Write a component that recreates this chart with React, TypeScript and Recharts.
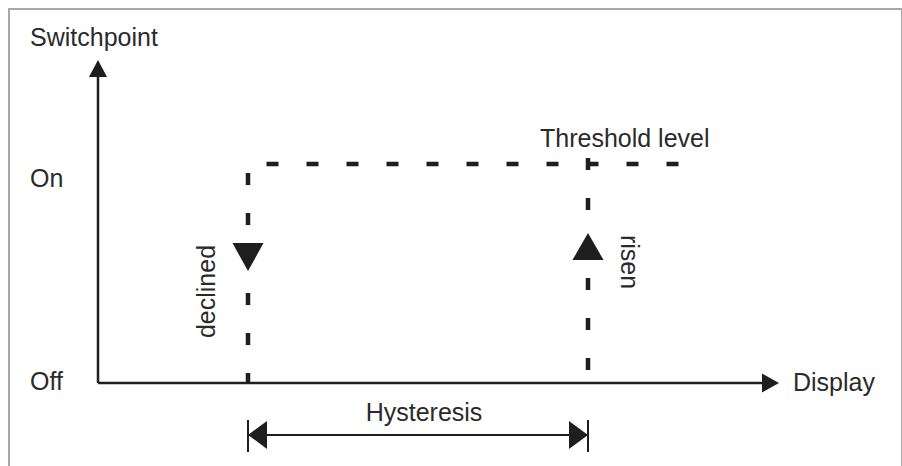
import React from 'react';
import { ComposedChart, XAxis, YAxis, Line, Scatter } from 'recharts';

// x: display value, y: switch state (0 = Off, 1 = On)
const DECLINED = 30;
const RISEN = 98;

const yAxisLine = [{ x: 0, y: 0 }, { x: 0, y: 1.4 }];
const xAxisLine = [{ x: 0, y: 0 }, { x: 133, y: 0 }];
const thresholdLine = [{ x: 33.7, y: 1 }, { x: 116.1, y: 1 }];
const declinedLine = [{ x: DECLINED, y: 0.959 }, { x: DECLINED, y: 0 }];
const risenLine = [{ x: RISEN, y: 1.027 }, { x: RISEN, y: 0.059 }];
const hysteresisLine = [{ x: DECLINED, y: -0.237 }, { x: RISEN, y: -0.237 }];
const hysteresisLeftTick = [{ x: DECLINED, y: -0.169 }, { x: DECLINED, y: -0.315 }];
const hysteresisRightTick = [{ x: RISEN, y: -0.169 }, { x: RISEN, y: -0.315 }];

// arrow tips
const yAxisTip = [{ x: 0, y: 1.475 }];
const xAxisTip = [{ x: 136.2, y: 0 }];
const declinedTip = [{ x: DECLINED, y: 0.511 }];
const risenTip = [{ x: RISEN, y: 0.685 }];
const hysteresisLeftTip = [{ x: DECLINED, y: -0.237 }];
const hysteresisRightTip = [{ x: RISEN, y: -0.237 }];

const labels = [
  { x: -13.6, y: 1.541, text: 'Switchpoint' },
  { x: -13.6, y: 0.895, text: 'On' },
  { x: -13.6, y: -0.034, text: 'Off' },
  { x: 139, y: -0.035, text: 'Display' },
  { x: 88.4, y: 1.079, text: 'Threshold level' },
  { x: 65.2, y: -0.172, text: 'Hysteresis' },
  { x: 23.4, y: 0.418, text: 'declined' },
  { x: 104.6, y: 0.5525, text: 'risen' },
];

const labelStyle: Record<string, { anchor: string; angle: number }> = {
  Hysteresis: { anchor: 'middle', angle: 0 },
  declined: { anchor: 'middle', angle: -90 },
  risen: { anchor: 'middle', angle: 90 },
};

const INK = '#1e1e1e';
const FONT = '"Liberation Sans", Arial, Helvetica, sans-serif';

const arrowhead = (dir: string, len: number, half: number) => (props: any) => {
  const { cx, cy } = props;
  let pts: number[][];
  if (dir === 'up') pts = [[cx, cy], [cx - half, cy + len], [cx + half, cy + len]];
  else if (dir === 'down') pts = [[cx, cy], [cx - half, cy - len], [cx + half, cy - len]];
  else if (dir === 'right') pts = [[cx, cy], [cx - len, cy - half], [cx - len, cy + half]];
  else pts = [[cx, cy], [cx + len, cy - half], [cx + len, cy + half]];
  return <polygon points={pts.map(p => p.join(',')).join(' ')} fill={INK} />;
};

const LabelShape = (props: any) => {
  const { cx, cy, payload } = props;
  const st = labelStyle[payload.text] || { anchor: 'start', angle: 0 };
  return (
    <text
      x={cx}
      y={cy}
      textAnchor={st.anchor}
      fontSize={25}
      fontFamily={FONT}
      fill="#2a2a2a"
      transform={st.angle ? `rotate(${st.angle} ${cx} ${cy})` : undefined}
    >
      {payload.text}
    </text>
  );
};

const seg = (data: any[], width: number, dash?: string) => (
  <Line
    data={data}
    dataKey="y"
    type="linear"
    stroke={INK}
    strokeWidth={width}
    strokeDasharray={dash}
    dot={false}
    activeDot={false}
    legendType="none"
    isAnimationActive={false}
  />
);

const App: React.FC = () => (
  <div style={{ position: 'absolute', left: 0, top: 0, width: 902, height: 466, background: '#fff', overflow: 'hidden' }}>
    <div
      style={{
        position: 'absolute',
        left: 8,
        top: 8,
        width: 891,
        height: 520,
        borderLeft: '2px solid #a8a8a8',
        borderTop: '2px solid #a8a8a8',
        borderRight: '2px solid #a8a8a8',
      }}
    />
    <div style={{ position: 'absolute', left: 0, top: 0 }}>
      <ComposedChart width={902} height={466} margin={{ top: 0, right: 0, bottom: 0, left: 0 }}>
        <XAxis type="number" dataKey="x" domain={[-19.6, 160.8]} allowDataOverflow hide />
        <YAxis type="number" dataKey="y" domain={[-0.379, 1.749]} allowDataOverflow hide />
        {seg(yAxisLine, 2.5)}
        {seg(xAxisLine, 2.5)}
        {seg(thresholdLine, 4.5, '12 28')}
        {seg(declinedLine, 4.5, '12 28')}
        {seg(risenLine, 4.5, '12 28')}
        {seg(hysteresisLine, 2)}
        {seg(hysteresisLeftTick, 2)}
        {seg(hysteresisRightTick, 2)}
        <Scatter data={yAxisTip} shape={arrowhead('up', 17, 9)} isAnimationActive={false} legendType="none" />
        <Scatter data={xAxisTip} shape={arrowhead('right', 17, 9.5)} isAnimationActive={false} legendType="none" />
        <Scatter data={declinedTip} shape={arrowhead('down', 28, 15.5)} isAnimationActive={false} legendType="none" />
        <Scatter data={risenTip} shape={arrowhead('up', 27, 15.5)} isAnimationActive={false} legendType="none" />
        <Scatter data={hysteresisLeftTip} shape={arrowhead('left', 19, 14)} isAnimationActive={false} legendType="none" />
        <Scatter data={hysteresisRightTip} shape={arrowhead('right', 19, 14)} isAnimationActive={false} legendType="none" />
        <Scatter data={labels} shape={LabelShape} isAnimationActive={false} legendType="none" />
      </ComposedChart>
    </div>
  </div>
);

export default App;
